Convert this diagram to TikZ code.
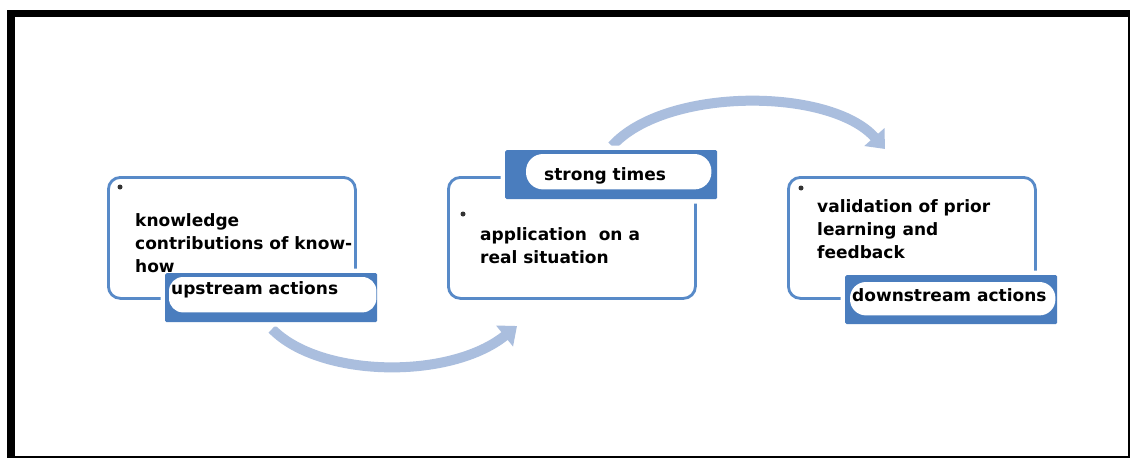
\documentclass[tikz,border=0pt]{standalone}
\usepackage{fontspec}
\setmainfont{DejaVu Sans}
\usetikzlibrary{arrows.meta}
\definecolor{cardblue}{RGB}{88,138,200}
\definecolor{tagblue}{RGB}{74,125,190}
\definecolor{flowblue}{RGB}{170,190,222}

\begin{document}
\begin{tikzpicture}[x=1pt, y=-1pt,
    card/.style={draw=cardblue, line width=2.8pt, fill=white, rounded corners=12pt,
      anchor=north west, inner sep=0pt, minimum width=247pt, minimum height=121pt},
    tag/.style={fill=tagblue, anchor=north west, inner sep=0pt, rounded corners=1.5pt,
      minimum width=212pt, minimum height=49pt, preaction={draw=white, line width=9pt}},
    pill/.style={fill=white, rounded corners=#1},
    txt/.style={font=\fontsize{17}{23}\selectfont\bfseries, inner sep=0pt,
      anchor=base west, align=left},
    flow/.style={draw=flowblue, line width=10pt, -{Triangle[length=16pt, width=26pt]}},
    bullet/.style={circle, fill=black!80, inner sep=0pt, minimum size=5pt}]
\useasboundingbox (0,0) rectangle (1130,458);

% frame
\fill (7,10) rectangle (1130,458);
\fill[white] (15,17) rectangle (1128,456);

% cycle arrows
\draw[flow] (272,329) .. controls (320,378) and (450,380) .. (517,326);
\draw[flow] (612,146) .. controls (665,87) and (830,87) .. (885,149);

% the three cards
\node[card] (know) at (107,176) {};
\node[card] (apply) at (447,176) {};
\node[card] (valid) at (787,176) {};

\node[bullet] (b1) at (120,187) {};
\node[bullet] (b2) at (463,214) {};
\node[bullet] (b3) at (801,188) {};

% tags on the cards
\node[tag] (up) at (165,273) {};
\fill[pill=14pt] ([shift={(4pt,-4pt)}]up.north west) rectangle ([shift={(-1pt,10pt)}]up.south east);
\node[txt] (upT) at (171,294) {upstream actions};

\node[tag] (strong) at (505,150) {};
\fill[pill=17pt] ([shift={(21pt,-4pt)}]strong.north west) rectangle ([shift={(-6pt,10pt)}]strong.south east);
\node[txt] (strongT) at (544,180) {strong times};

\node[tag] (down) at (845,275) {};
\fill[pill=16pt] ([shift={(5pt,-7pt)}]down.north west) rectangle ([shift={(-2pt,9pt)}]down.south east);
\node[txt] (downT) at (852,301) {downstream actions};

% card texts, on top of the tags
% base of a multi-line node sits below its last line
\node[txt] (knowT) at (135,272) {knowledge\\contributions of know-\\how};
\node[txt] (applyT) at (480,263) {application\ \ on a\\real situation};
\node[txt] (validT) at (817,258) {validation of prior\\learning and\\feedback};
\end{tikzpicture}
\end{document}
